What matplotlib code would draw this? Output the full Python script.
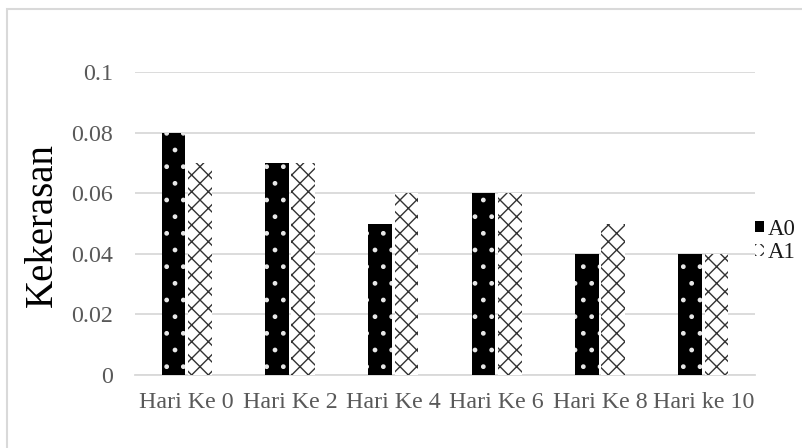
import matplotlib
matplotlib.use("Agg")
import matplotlib.pyplot as plt
import numpy as np
from matplotlib.patches import Rectangle, Patch

# --- data -------------------------------------------------------------
categories = ["Hari Ke 0", "Hari Ke 2", "Hari Ke 4", "Hari Ke 6", "Hari Ke 8", "Hari ke 10"]
a0_values = [0.08, 0.07, 0.05, 0.06, 0.04, 0.04]
a1_values = [0.07, 0.07, 0.06, 0.06, 0.05, 0.04]
series_names = ["A0", "A1"]
y_ticks = [0, 0.02, 0.04, 0.06, 0.08, 0.1]
y_tick_labels = ["0", "0.02", "0.04", "0.06", "0.08", "0.1"]
y_label = "Kekerasan"

# --- style ------------------------------------------------------------
plt.rcParams["font.family"] = ["Liberation Serif", "DejaVu Serif"]
plt.rcParams["hatch.linewidth"] = 1.0
grid_color = "#d9d9d9"
tick_color = "#595959"

fig = plt.figure(figsize=(8.03, 4.48), dpi=100)
fig.patch.set_facecolor("white")

# outer chart frame (runs off the right and bottom edges)
fig.add_artist(Rectangle((7 / 803, -0.05), 1.2, 1 - 9 / 448 + 0.05,
                         transform=fig.transFigure, fill=False,
                         edgecolor=grid_color, linewidth=1.5, zorder=0))

ax = fig.add_axes([135 / 803, 1 - 375 / 448, 620 / 803, (375 - 72) / 448])

x = np.arange(len(categories))
width = 0.228
offset = 0.128

ax.bar(x - offset, a0_values, width, facecolor="black", edgecolor="#e8e8e8",
       hatch=".", linewidth=0, zorder=3, label=series_names[0])
ax.bar(x + offset, a1_values, width, facecolor="white", edgecolor="#333333",
       hatch="xx", linewidth=0, zorder=3, label=series_names[1])

ax.set_xlim(-0.5, len(categories) - 0.5)
ax.set_ylim(0, 0.1)
ax.set_yticks(y_ticks)
ax.set_yticklabels(y_tick_labels)
ax.set_xticks(x)
ax.set_xticklabels(categories)

ax.yaxis.grid(True, color=grid_color, linewidth=1.3, zorder=0)
ax.set_axisbelow(True)
for side in ("top", "right", "left"):
    ax.spines[side].set_visible(False)
ax.spines["bottom"].set_color(grid_color)
ax.spines["bottom"].set_linewidth(1.3)

ax.tick_params(axis="both", length=0, labelsize=17.3, labelcolor=tick_color)
ax.tick_params(axis="x", pad=12)
ax.tick_params(axis="y", pad=16)

fig.text(42 / 803, 1 - 225 / 448, y_label, rotation=90, ha="center",
         va="center", fontsize=28, color="black")

handles = [
    Patch(facecolor="black", edgecolor="#e8e8e8", hatch=".", linewidth=0),
    Patch(facecolor="white", edgecolor="#333333", hatch="xx", linewidth=0),
]
fig.legend(handles, series_names, loc="center left",
           bbox_to_anchor=(755 / 803, 1 - 241 / 448), frameon=False,
           fontsize=16.5, handlelength=0.4, handleheight=0.4,
           handletextpad=0.15, labelspacing=0.1, borderpad=0,
           borderaxespad=0, labelcolor="#1a1a1a")

fig.savefig("out.png", dpi=100, facecolor="white")
